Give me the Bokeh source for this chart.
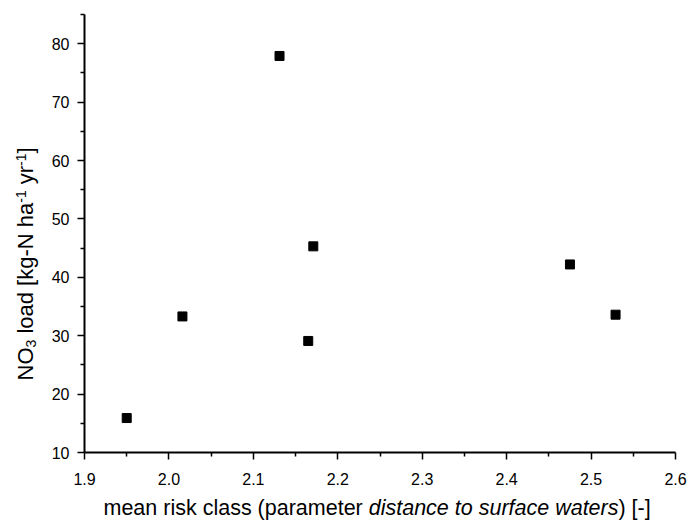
import math
from bokeh.plotting import figure
from bokeh.models import FixedTicker, PrintfTickFormatter, Range1d, ColumnDataSource
from bokeh.core.properties import value
from bokeh.embed import file_html
from bokeh.resources import INLINE

# ---- data ----
risk_class = [1.950, 2.016, 2.131, 2.165, 2.171, 2.475, 2.529]
no3_load = [15.9, 33.3, 77.9, 29.1, 45.3, 42.2, 33.6]

x_ticks = [1.9, 2.0, 2.1, 2.2, 2.3, 2.4, 2.5, 2.6]
x_minor = [1.95, 2.05, 2.15, 2.25, 2.35, 2.45, 2.55]
y_ticks = [10, 20, 30, 40, 50, 60, 70, 80]
y_minor = [15, 25, 35, 45, 55, 65, 75, 85]

x_label_parts = [("mean risk class (parameter ", "normal"),
                 ("distance to surface waters", "italic"),
                 (") [-]", "normal")]
y_label_parts = [("NO", "n"), ("3", "sub"), (" load [kg-N ha", "n"), ("-1", "sup"),
                 (" yr", "n"), ("-1", "sup"), ("]", "n")]

# ---- layout ----
W, H = 688, 521
FL, FR, FT, FB = 84, 675, 14, 452
X0, X1, Y0, Y1 = 1.9, 2.6, 10, 85
FONT = "Liberation Sans"

p = figure(width=W, height=H, output_backend="svg", toolbar_location=None,
           x_range=Range1d(X0, X1), y_range=Range1d(Y0, Y1),
           min_border_left=FL, min_border_right=W - FR,
           min_border_top=FT, min_border_bottom=H - FB)
p.xgrid.visible = False
p.ygrid.visible = False
p.outline_line_color = None
p.background_fill_color = "white"
p.border_fill_color = "white"

for ax, tk, mn, fmt in ((p.xaxis, x_ticks, x_minor, "%.1f"), (p.yaxis, y_ticks, y_minor, "%d")):
    ax.ticker = FixedTicker(ticks=tk, minor_ticks=mn)
    ax.formatter = PrintfTickFormatter(format=fmt)
    ax.axis_line_width = 2
    ax.axis_line_color = "black"
    ax.major_tick_line_width = 1.5
    ax.minor_tick_line_width = 1.5
    ax.major_tick_line_color = "black"
    ax.minor_tick_line_color = "black"
    ax.major_tick_in = 0
    ax.major_tick_out = 7
    ax.minor_tick_in = 0
    ax.minor_tick_out = 4
    ax.major_label_text_font = FONT
    ax.major_label_text_font_size = "16px"
    ax.major_label_text_color = "black"
p.xaxis.major_label_standoff = 13
p.yaxis.major_label_standoff = 8

p.scatter(risk_class, no3_load, marker="square", size=9, fill_color="black",
          line_color="black", line_width=1)

# ---- axis titles built from pieces (mixed italic / sub / superscripts) ----
ARIAL = {" ": 278, "(": 333, ")": 333, "[": 278, "]": 278, "-": 333, ".": 278,
         "N": 722, "O": 778, "a": 556, "c": 500, "d": 556, "e": 556, "f": 278,
         "g": 556, "h": 556, "i": 222, "k": 500, "l": 222, "m": 833, "n": 556,
         "o": 556, "p": 556, "r": 333, "s": 500, "t": 278, "u": 556, "w": 722,
         "y": 500}


def text_w(s, size):
    return sum(ARIAL.get(c, 556) for c in s) * size / 1000.0


def dx(px):
    return X0 + (px - FL) / (FR - FL) * (X1 - X0)


def dy(py):
    return Y0 + (FB - py) / (FB - FT) * (Y1 - Y0)


cols = dict(x=[], y=[], text=[], size=[], style=[], angle=[])


def add_piece(px, py, part, size, style, angle):
    cols["x"].append(dx(px))
    cols["y"].append(dy(py))
    cols["text"].append(part)
    cols["size"].append(f"{size}px")
    cols["style"].append(style)
    cols["angle"].append(angle)


XS = 21.5
cur = 103.0
xbase = 507.0
for part, style in x_label_parts:
    lead = len(part) - len(part.lstrip(" "))
    cur += text_w(" " * lead, XS)
    core = part.strip(" ")
    add_piece(cur, xbase, core, XS, style, 0.0)
    cur += text_w(part[lead:], XS)

YS, SS = 22.0, 14.0
ybase = 25.0
cur = 380.0
for part, kind in y_label_parts:
    size = YS if kind == "n" else SS
    bx = ybase + (5 if kind == "sub" else (-5 if kind == "sup" else 0))
    lead = len(part) - len(part.lstrip(" "))
    cur -= text_w(" " * lead, size)
    add_piece(bx, cur, part.strip(" "), size, "normal", math.pi / 2)
    cur -= text_w(part[lead:], size)

src = ColumnDataSource(cols)
p.text(x="x", y="y", text="text", angle="angle", source=src,
       text_font=value(FONT), text_font_size="size", text_font_style="style",
       text_color="black", text_align="left", text_baseline="alphabetic",
       level="annotation")

open("out.html", "w").write(file_html(p, INLINE))
